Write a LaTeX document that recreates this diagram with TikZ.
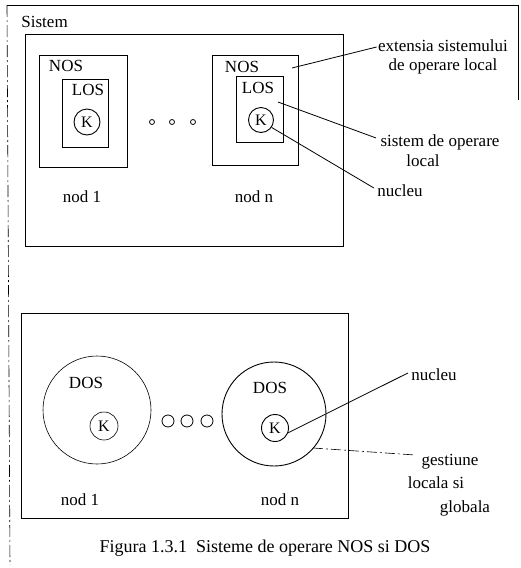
\documentclass[tikz,border=0pt]{standalone}
\usepackage{fontspec}
\setmainfont{Liberation Serif}
\begin{document}
\begin{tikzpicture}[x=1pt,y=-1pt,
  line width=0.9pt,
  box/.style={draw, rectangle, inner sep=0pt},
  kc/.style={draw, circle, inner sep=0pt, minimum size=#1, font=\fontsize{16}{18}\selectfont},
  dosc/.style={draw, circle, inner sep=0pt, minimum size=#1},
  dot/.style={draw, circle, inner sep=0pt, minimum size=#1, line width=0.8pt},
  lbl/.style={inner sep=0pt, font=\fontsize{17}{19}\selectfont},
  lead/.style={line width=0.8pt}]
\useasboundingbox (0,0) rectangle (520,568);
% outer frame (partially visible)
\coordinate (o1) at (7,5);
\coordinate (o2) at (518,5);
\coordinate (o3) at (518,100);
\coordinate (o4) at (10,565);
\draw[line width=0.6pt] (o3) -- (o2) -- (o1);
\draw[line width=0.6pt, dash pattern=on 12pt off 3pt on 2pt off 3pt] (o1) -- (o4);
\node[lbl, anchor=west] (sistem) at (21,22) {Sistem};
% top system
\node[box, minimum width=318pt, minimum height=212pt] (sys1) at (184,140) {};
\node[box, minimum width=88pt, minimum height=112pt, line width=0.6pt] (nos1) at (83,111) {};
\node[box, minimum width=46pt, minimum height=68pt] (los1) at (85,113) {};
\node[lbl] (nos1l) at (66,66) {NOS};
\node[lbl] (los1l) at (88,90) {LOS};
\node[kc=26pt] (k1) at (87,122) {K};
\node[box, minimum width=86pt, minimum height=110pt] (nosn) at (255,110) {};
\node[box, minimum width=47pt, minimum height=66pt] (losn) at (259.5,109) {};
\node[lbl] (nosnl) at (242,67) {NOS};
\node[lbl] (losnl) at (258,88) {LOS};
\node[kc=25pt] (kn) at (261,120) {K};
\node[dot=5pt] (d1) at (152,122) {};
\node[dot=5pt] (d2) at (172,122) {};
\node[dot=5pt] (d3) at (193,122) {};
\node[lbl] (nod1a) at (82,197) {nod 1};
\node[lbl] (nodna) at (254,197) {nod n};
% labels top
\node[lbl, align=center] (ext) at (443,57) {extensia sistemului\\de operare local};
\node[lbl] (sdo) at (440,142) {sistem de operare};
\node[lbl] (sdol) at (423,161) {local};
\node[lbl] (nuc1) at (400,191) {nucleu};
\coordinate (e1) at (292,68);
\coordinate (e2) at (278,102);
\draw[lead] (e1) -- ([xshift=-1pt,yshift=10pt]ext.west);
\draw[lead] (e2) -- ([xshift=-4pt,yshift=4pt]sdo.west);
\draw[lead] (kn.-35) -- ([xshift=-3pt,yshift=3pt]nuc1.west);
% bottom system
\node[box, minimum width=327pt, minimum height=205pt] (sys2) at (184.5,415.5) {};
\node[dosc=108pt, line width=0.6pt] (dos1) at (97,410) {};
\node[lbl] (dos1l) at (86,383) {DOS};
\node[kc=28pt, line width=0.6pt] (kd1) at (104,426) {K};
\node[dot=12pt] (c1) at (168,421) {};
\node[dot=12pt] (c2) at (187,421) {};
\node[dot=12pt] (c3) at (207,421) {};
\node[dosc=104pt] (dosn) at (274,414) {};
\node[lbl] (dosnl) at (270,388) {DOS};
\node[kc=27pt] (kdn) at (275,428) {K};
\node[lbl] (nod1b) at (80,500) {nod 1};
\node[lbl] (nodnb) at (280,500) {nod n};
\node[lbl] (nuc2) at (434,375) {nucleu};
\node[lbl] (gest) at (450,462) {gestiune};
\node[lbl] (locs) at (436,483) {locala si};
\node[lbl] (glob) at (465,508) {globala};
\coordinate (g1) at (313,448);
\draw[lead] (kdn.-20) -- ([xshift=-3pt,yshift=2pt]nuc2.west);
\draw[lead, line width=0.6pt, dash pattern=on 10pt off 3pt on 2pt off 3pt] (g1) -- ([xshift=-6pt,yshift=7pt]gest.west);
% caption
\node[lbl, font=\fontsize{18}{20}\selectfont] (cap) at (265,548) {Figura 1.3.1 \ Sisteme de operare NOS si DOS};
\end{tikzpicture}
\end{document}
